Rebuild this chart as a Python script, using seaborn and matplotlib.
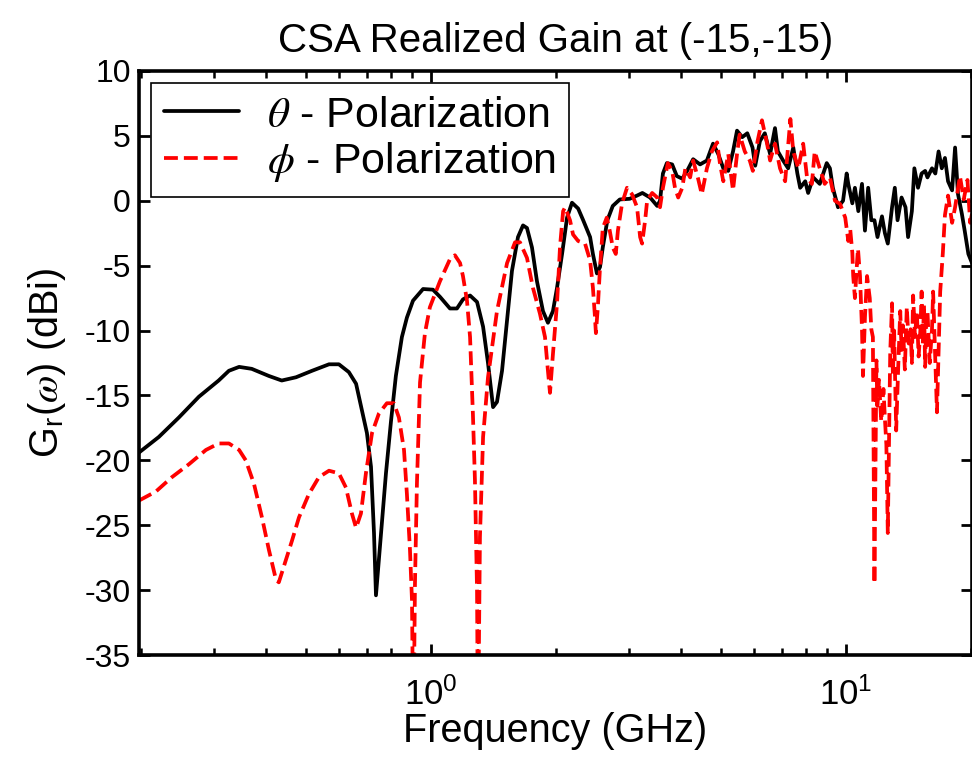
import numpy as np
import pandas as pd
import matplotlib
matplotlib.use("Agg")
import matplotlib.pyplot as plt
from matplotlib.ticker import LogLocator, FuncFormatter, MultipleLocator, NullFormatter
import seaborn as sns

# Data (frequency in GHz, realized gain in dBi)
theta_freq = [0.198, 0.221, 0.247, 0.276, 0.308, 0.326, 0.345, 0.370, 0.407, 0.437,
              0.473, 0.517, 0.568, 0.600, 0.634, 0.660, 0.682, 0.701, 0.717, 0.729,
              0.737, 0.758, 0.779, 0.801, 0.823, 0.851, 0.875, 0.905, 0.957, 1.011,
              1.051, 1.111, 1.155, 1.194, 1.242, 1.291, 1.335, 1.372, 1.411, 1.442,
              1.483, 1.525, 1.567, 1.620, 1.666, 1.703, 1.751, 1.800, 1.861, 1.913,
              1.967, 2.012, 2.069, 2.127, 2.186, 2.262, 2.326, 2.417, 2.455, 2.510,
              2.554, 2.593, 2.660, 2.741, 2.850, 3.010, 3.136, 3.230, 3.371, 3.507,
              3.562, 3.620, 3.700, 3.810, 3.910, 4.030, 4.140, 4.280, 4.448, 4.620,
              4.780, 4.920, 5.060, 5.200, 5.340, 5.460, 5.620, 5.780, 5.950, 6.040,
              6.200, 6.370, 6.560, 6.740, 6.850, 7.050, 7.250, 7.460, 7.630, 7.750,
              7.970, 8.100, 8.330, 8.640, 8.980, 9.140, 9.290, 9.560, 9.830, 10.03,
              10.12, 10.35, 10.50, 10.70, 10.92, 11.10, 11.30, 11.50, 11.70, 11.90,
              12.20, 12.40, 12.60, 12.90, 13.10, 13.30, 13.60, 13.90, 14.10, 14.40,
              14.60, 14.90, 15.20, 15.50, 15.70, 16.10, 16.40, 16.70, 17.00, 17.30,
              17.60, 18.00, 18.30, 18.60, 19.00, 19.30, 19.70, 20.10]
theta_gain = [-19.4, -18.2, -16.7, -15.1, -13.85, -13.1, -12.8, -12.95, -13.5, -13.85,
              -13.6, -13.1, -12.6, -12.6, -13.2, -14.1, -16.15, -17.9, -20.5, -25.6,
              -30.4, -25.6, -21.0, -17.0, -13.5, -10.5, -9.0, -7.7, -6.8, -6.85,
              -7.4, -8.3, -8.3, -7.6, -7.3, -7.8, -9.7, -12.5, -15.9, -15.5,
              -13.1, -9.2, -5.4, -2.8, -1.9, -2.1, -3.6, -6.2, -8.5, -9.4,
              -8.5, -6.7, -4.1, -1.3, -0.15, -0.6, -1.5, -2.8, -4.1, -5.6,
              -5.1, -3.6, -1.5, -0.4, 0.1, 0.15, 0.4, 0.6, 0.25, -0.4,
              0.0, 2.1, 2.9, 2.8, 1.9, 1.7, 2.3, 3.2, 2.8, 3.1,
              4.4, 3.6, 2.5, 2.3, 3.8, 5.4, 4.9, 5.2, 4.1, 2.7,
              4.6, 5.2, 3.6, 5.6, 3.8, 3.1, 2.5, 4.1, 2.1, 1.0,
              1.5, 0.6, 1.8, 1.3, 2.9, 2.5, 1.0, -0.5, 0.0, 2.1,
              1.3, -0.2, 1.0, -0.8, 1.3, -2.3, 1.0, -1.5, -1.5, -2.8,
              -1.2, -2.5, -3.3, -0.5, 1.0, -1.5, 0.25, -0.5, -2.8, -0.8,
              2.5, 1.0, 2.1, 2.3, 1.8, 2.5, 2.1, 3.8, 2.5, 3.3,
              1.5, 0.8, 4.1, 0.5, -1.0, -2.3, -4.1, -4.8]

phi_freq = [0.198, 0.2175, 0.2376, 0.2612, 0.287, 0.308, 0.326, 0.345, 0.358, 0.3746,
            0.3916, 0.407, 0.4233, 0.430, 0.447, 0.4625, 0.4808, 0.508, 0.537, 0.568,
            0.600, 0.624, 0.645, 0.660, 0.678, 0.697, 0.721, 0.749, 0.783, 0.814,
            0.837, 0.861, 0.875, 0.890, 0.900, 0.907, 0.915, 0.925, 0.941, 0.967,
            0.994, 1.051, 1.111, 1.142, 1.175, 1.194, 1.221, 1.242, 1.262, 1.276,
            1.291, 1.298, 1.312, 1.335, 1.372, 1.442, 1.525, 1.594, 1.638, 1.703,
            1.760, 1.830, 1.882, 1.913, 1.935, 1.967, 2.012, 2.046, 2.081, 2.104,
            2.162, 2.199, 2.262, 2.350, 2.417, 2.455, 2.480, 2.496, 2.523, 2.551,
            2.593, 2.651, 2.695, 2.741, 2.787, 2.820, 2.886, 2.966, 3.050, 3.136,
            3.190, 3.225, 3.280, 3.316, 3.410, 3.507, 3.562, 3.620, 3.720, 3.810,
            3.870, 3.940, 4.030, 4.100, 4.210, 4.280, 4.400, 4.490, 4.620, 4.750,
            4.890, 4.970, 5.060, 5.200, 5.340, 5.460, 5.540, 5.700, 5.860, 5.960,
            6.120, 6.270, 6.450, 6.560, 6.740, 6.930, 7.130, 7.340, 7.460, 7.670,
            7.880, 8.050, 8.270, 8.400, 8.640, 8.880, 9.140, 9.400, 9.670, 9.950,
            10.12, 10.23, 10.35, 10.40, 10.50, 10.63, 10.68, 10.80, 10.92, 10.98,
            11.10, 11.23, 11.40, 11.50, 11.60, 11.70, 11.83, 11.89, 12.00, 12.15,
            12.30, 12.40, 12.50, 12.60, 12.77, 12.90, 12.96, 13.05, 13.20, 13.35,
            13.50, 13.60, 13.70, 13.85, 14.00, 14.15, 14.30, 14.40, 14.50, 14.65,
            14.80, 14.95, 15.10, 15.20, 15.30, 15.40, 15.50, 15.60, 15.70, 15.90,
            16.10, 16.20, 16.35, 16.55, 16.85, 17.10, 17.30, 17.60, 18.00, 18.30,
            18.80, 19.20, 19.60, 19.90, 20.10]
phi_gain = [-23.1, -22.4, -21.3, -20.3, -19.2, -18.7, -18.7, -19.2, -20.0, -21.8,
            -24.4, -26.9, -29.2, -29.4, -27.7, -26.2, -24.4, -22.6, -21.3, -20.8,
            -21.0, -22.1, -24.1, -25.2, -24.1, -21.0, -17.9, -16.4, -15.6, -15.6,
            -16.7, -19.2, -22.6, -26.9, -30.8, -42.0, -29.5, -21.8, -14.0, -10.2,
            -8.2, -6.2, -4.5, -4.2, -4.8, -5.8, -7.7, -10.5, -16.5, -21.5,
            -30.0, -42.0, -25.9, -18.2, -13.6, -8.5, -4.8, -3.2, -3.2, -4.4,
            -6.7, -8.7, -10.5, -13.1, -14.8, -11.8, -7.9, -3.5, -0.8, -0.5,
            -1.5, -2.6, -3.1, -3.3, -4.6, -6.7, -8.7, -10.2, -8.2, -5.4,
            -2.1, -1.3, -2.3, -3.6, -4.1, -2.3, -0.2, 1.0, 0.5, -0.5,
            -2.8, -3.3, -1.5, 0.0, 0.6, 0.25, -0.5, 1.0, 2.9, 2.3,
            1.0, 0.25, 1.0, 2.5, 1.8, 3.1, 1.7, 0.5, 2.5, 3.8,
            4.5, 2.8, 1.5, 3.6, 0.8, 3.6, 5.1, 3.8, 3.1, 2.3,
            4.6, 6.2, 4.4, 3.1, 4.4, 2.5, 1.5, 6.3, 3.8, 2.5,
            4.4, 1.8, 1.3, 3.8, 2.5, 1.3, 1.8, 0.0, -0.25, -1.3,
            -3.1, -2.2, -4.0, -5.8, -7.5, -4.6, -3.7, -5.8, -9.9, -13.5,
            -9.0, -5.8, -7.5, -9.9, -10.5, -29.5, -12.3, -15.8, -13.8, -17.0,
            -14.5, -16.8, -18.8, -25.6, -11.7, -7.9, -13.5, -10.0, -17.7, -12.8,
            -8.5, -11.5, -9.6, -13.0, -8.2, -11.0, -9.9, -12.5, -7.3, -10.5,
            -8.5, -12.0, -9.9, -7.0, -11.0, -8.0, -12.8, -9.0, -8.5, -12.5,
            -9.9, -7.0, -11.0, -16.3, -7.0, -4.0, -1.1, 0.4, -1.7, -0.5,
            1.9, 0.1, 1.6, -1.7, -1.0]

theta_df = pd.DataFrame({"freq": theta_freq, "gain": theta_gain})
phi_df = pd.DataFrame({"freq": phi_freq, "gain": phi_gain})

sns.set_theme(style="ticks")
plt.rcParams["font.family"] = ["Liberation Sans", "DejaVu Sans"]
plt.rcParams["mathtext.fontset"] = "stix"
plt.rcParams["axes.unicode_minus"] = False
for key in ["text.color", "axes.labelcolor", "xtick.color", "ytick.color", "axes.edgecolor"]:
    plt.rcParams[key] = "black"

fig = plt.figure(figsize=(9.72, 7.59), dpi=100)
ax = fig.add_axes([0.143, 0.137, 0.857, 0.7695])

sns.lineplot(data=theta_df, x="freq", y="gain", ax=ax, color="black", lw=2.7,
             sort=False, estimator=None, label=r"$\theta$ - Polarization")
sns.lineplot(data=phi_df, x="freq", y="gain", ax=ax, color="#ff0000", lw=2.7,
             linestyle="--", sort=False, estimator=None, label=r"$\phi$ - Polarization")

ax.set_xscale("log")
ax.set_xlim(0.198, 20.1)
ax.set_ylim(-35, 10)
ax.yaxis.set_major_locator(MultipleLocator(5))
ax.xaxis.set_major_locator(LogLocator(base=10))
ax.xaxis.set_minor_locator(LogLocator(base=10, subs=np.arange(2, 10)))
ax.xaxis.set_minor_formatter(NullFormatter())
ax.xaxis.set_major_formatter(FuncFormatter(lambda v, p: r"$\mathregular{10^{%d}}$" % round(np.log10(v))))

ax.tick_params(axis="both", which="both", direction="in", top=True, right=True,
               color="black")
ax.tick_params(axis="y", which="major", labelsize=23, length=8, width=2, pad=6)
ax.tick_params(axis="x", which="major", labelsize=25, length=8, width=2, pad=16)
ax.tick_params(axis="both", which="minor", length=5, width=1.8)
for s in ax.spines.values():
    s.set_linewidth(2.6)
    s.set_color("black")

ax.set_title("CSA Realized Gain at (-15,-15)", fontsize=29, pad=14)
ax.set_xlabel("Frequency (GHz)", fontsize=28.5, labelpad=0)
ax.set_ylabel(r"G$_\mathregular{r}$($\omega$) (dBi)", fontsize=28.5, labelpad=12)

leg = ax.legend(loc="upper left", fontsize=31, frameon=True, fancybox=False,
                edgecolor="black", framealpha=1, handlelength=1.75,
                handletextpad=0.65, borderaxespad=0.27, borderpad=0.3,
                labelspacing=0.1)
leg.get_frame().set_linewidth(1.2)

fig.savefig("out.png", dpi=100)
